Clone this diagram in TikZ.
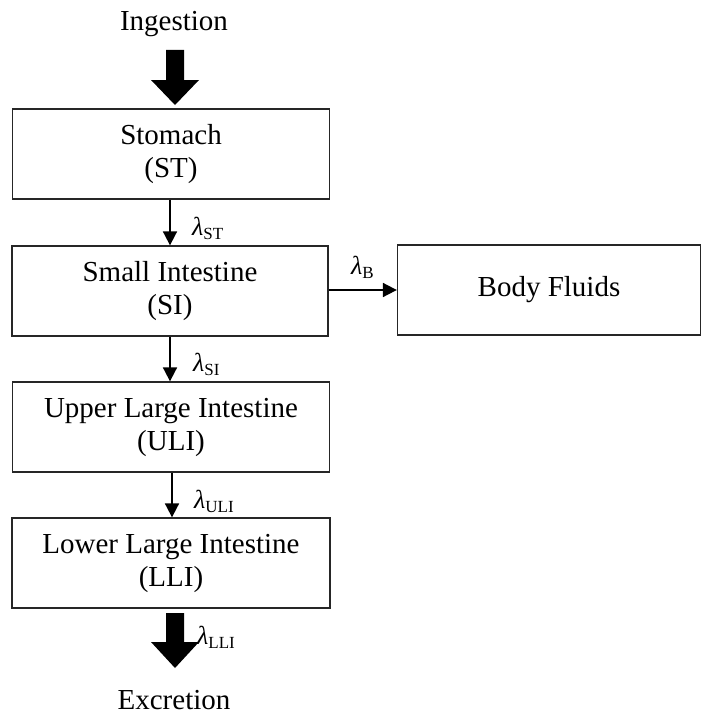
\documentclass[tikz,border=0pt]{standalone}
\usepackage{fontspec}
\setmainfont{Liberation Serif}
\usetikzlibrary{arrows.meta}
\tikzset{
  box/.style={draw=black!85, line width=1.3pt, minimum height=90pt, align=center,
    font=\fontsize{29}{33}\selectfont, inner sep=0pt},
  flow/.style={line width=1.8pt, -{Triangle[length=14pt,width=14pt]}},
  lab/.style={font=\fontsize{26}{26}\selectfont, inner sep=0pt},
  big/.style={fill=black, draw=none},
  ext/.style={font=\fontsize{29}{33}\selectfont, inner sep=0pt}
}
\newcommand{\lamsub}[1]{\textit{λ}\raisebox{-4pt}{\fontsize{17}{17}\selectfont #1}}
\begin{document}
\begin{tikzpicture}[x=1pt,y=-1pt]
\useasboundingbox (0,0) rectangle (702,717);
\node[ext] (ing) at (174,24) {Ingestion};
\node[ext] (exc) at (174,700) {Excretion};
\node[box, minimum width=317pt] (st) at (171,154) {Stomach\\(ST)};
\node[box, minimum width=316pt] (si) at (170,291) {Small Intestine\\(SI)};
\node[box, minimum width=317pt] (uli) at (171,427) {Upper Large Intestine\\(ULI)};
\node[box, minimum width=318pt] (lli) at (171,563) {Lower Large Intestine\\(LLI)};
\node[box, minimum width=303pt] (bf) at (549,290) {Body Fluids};
% big arrows
\draw[big] (166,50) -- (184,50) -- (184,80) -- (199,80) -- (175,105) -- (151,80) -- (166,80) -- cycle;
\draw[big] (166,613) -- (184,613) -- (184,642) -- (199,642) -- (175,668) -- (151,642) -- (166,642) -- cycle;
% flow arrows
\draw[flow] (st.south -| 170,0) -- (si.north -| 170,0);
\draw[flow] (si.south -| 170,0) -- (uli.north -| 170,0);
\draw[flow] (uli.south -| 172,0) -- (lli.north -| 172,0);
\draw[flow] (si.east |- 0,290) -- (bf.west |- 0,290);
% labels
\node[lab, anchor=west] (lst) at (192,228) {\lamsub{ST}};
\node[lab, anchor=west] (lsi) at (193,364) {\lamsub{SI}};
\node[lab, anchor=west] (luli) at (194,501) {\lamsub{ULI}};
\node[lab, anchor=west] (lb) at (351,267) {\lamsub{B}};
\node[lab, anchor=west] (llli) at (197,637) {\lamsub{LLI}};
\end{tikzpicture}
\end{document}
